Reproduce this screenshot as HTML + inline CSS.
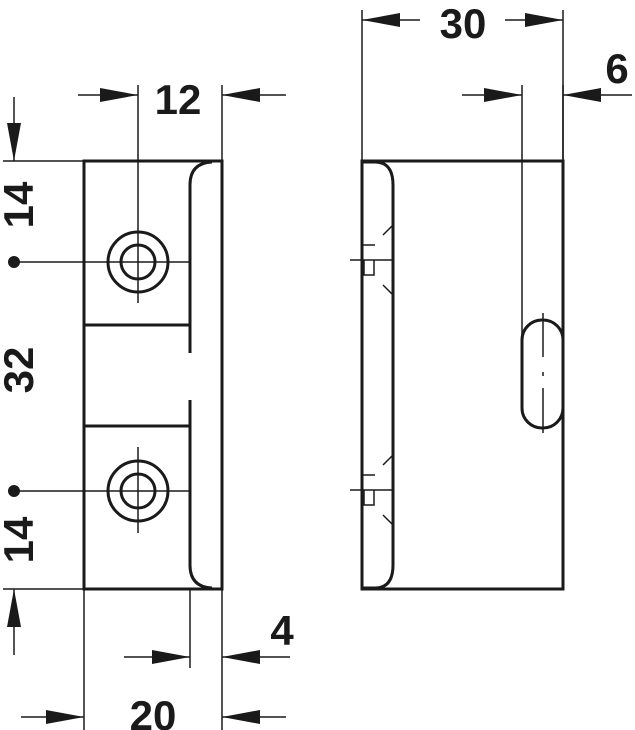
<!DOCTYPE html>
<html><head><style>
html,body{margin:0;padding:0;background:#fff}
svg{display:block}
text{font-family:"Liberation Sans",sans-serif;font-weight:bold;fill:#1a1a1a}
</style></head><body>
<svg width="635" height="730" viewBox="0 0 635 730" xmlns="http://www.w3.org/2000/svg">
<defs>
<marker id="a" viewBox="0 0 38 14" refX="38" refY="7" markerWidth="38" markerHeight="14" markerUnits="userSpaceOnUse" orient="auto"><path d="M0,0 L38,7 L0,14 z" fill="#1a1a1a"/></marker>
</defs>
<g stroke="#1a1a1a" fill="none">
<!-- LEFT VIEW -->
<g stroke-width="3">
<rect x="84" y="161" width="138" height="428"/>
<path d="M190,353 V185 Q190,163 212,162"/>
<path d="M190,400 V565 Q190,587 212,588"/>
<line x1="84" y1="325" x2="190" y2="325"/>
<line x1="84" y1="426" x2="190" y2="426"/>
<circle cx="138" cy="262" r="30"/>
<circle cx="138" cy="262" r="17"/>
<circle cx="138" cy="491" r="30"/>
<circle cx="138" cy="491" r="17"/>
</g>
<g stroke-width="1.5">
<line x1="3" y1="161" x2="84" y2="161"/>
<line x1="3" y1="589" x2="84" y2="589"/>
<line x1="14" y1="262" x2="190" y2="262"/>
<line x1="14" y1="491" x2="190" y2="491"/>
<line x1="138" y1="85" x2="138" y2="303"/>
<line x1="138" y1="447" x2="138" y2="533"/>
<line x1="222" y1="85" x2="222" y2="161"/>
<line x1="190" y1="589" x2="190" y2="668"/>
<line x1="222" y1="589" x2="222" y2="730"/>
<line x1="84" y1="589" x2="84" y2="730"/>
<line x1="78" y1="95" x2="138" y2="95" marker-end="url(#a)"/>
<line x1="286" y1="95" x2="222" y2="95" marker-end="url(#a)"/>
<line x1="14" y1="97" x2="14" y2="161" marker-end="url(#a)"/>
<line x1="14" y1="655" x2="14" y2="589" marker-end="url(#a)"/>
<line x1="124" y1="657" x2="190" y2="657" marker-end="url(#a)"/>
<line x1="290" y1="657" x2="222" y2="657" marker-end="url(#a)"/>
<line x1="21" y1="717" x2="84" y2="717" marker-end="url(#a)"/>
<line x1="286" y1="717" x2="222" y2="717" marker-end="url(#a)"/>
</g>
<circle cx="14" cy="262" r="6" fill="#1a1a1a" stroke="none"/>
<circle cx="14" cy="491" r="6" fill="#1a1a1a" stroke="none"/>

<!-- RIGHT VIEW -->
<g stroke-width="3">
<rect x="362" y="161" width="201" height="428"/>
<path d="M362,162 H375 Q393,162 393,185 V565 Q393,588 375,588 H362"/>
<path d="M543,320 A20,20 0 0 1 563,340 V408 A20,20 0 0 1 543,428 A20,20 0 0 1 522,408 V340 A20,20 0 0 1 543,320 z"/>
</g>
<g stroke-width="1.5">
<line x1="362" y1="10" x2="362" y2="161"/>
<line x1="563" y1="10" x2="563" y2="161"/>
<line x1="522" y1="85" x2="522" y2="335"/>
<line x1="563" y1="85" x2="563" y2="161"/>
<line x1="420" y1="20" x2="362" y2="20" marker-end="url(#a)"/>
<line x1="505" y1="20" x2="563" y2="20" marker-end="url(#a)"/>
<line x1="462" y1="95" x2="522" y2="95" marker-end="url(#a)"/>
<line x1="632" y1="95" x2="563" y2="95" marker-end="url(#a)"/>
<line x1="543" y1="313" x2="543" y2="357"/>
<line x1="543" y1="372" x2="543" y2="376"/>
<line x1="543" y1="388" x2="543" y2="433"/>
<line x1="350" y1="260" x2="392" y2="260"/>
<path d="M363,245 H375 M364,260 V275 H374 V260"/>
<line x1="383" y1="235" x2="392" y2="226"/>
<line x1="383" y1="285" x2="392" y2="294"/>
<line x1="350" y1="490" x2="392" y2="490"/>
<path d="M363,475 H375 M364,490 V505 H374 V490"/>
<line x1="383" y1="465" x2="392" y2="456"/>
<line x1="383" y1="515" x2="392" y2="524"/>
</g>
</g>
<text x="178" y="114" font-size="42" text-anchor="middle">12</text>
<text x="463" y="38" font-size="42" text-anchor="middle">30</text>
<text x="617" y="83" font-size="42" text-anchor="middle">6</text>
<text x="282" y="645" font-size="42" text-anchor="middle">4</text>
<text x="153" y="730" font-size="42" text-anchor="middle">20</text>
<text transform="translate(33,205) rotate(-90)" font-size="42" text-anchor="middle">14</text>
<text transform="translate(33,370) rotate(-90)" font-size="42" text-anchor="middle">32</text>
<text transform="translate(33,540) rotate(-90)" font-size="42" text-anchor="middle">14</text>
</svg>
</body></html>
